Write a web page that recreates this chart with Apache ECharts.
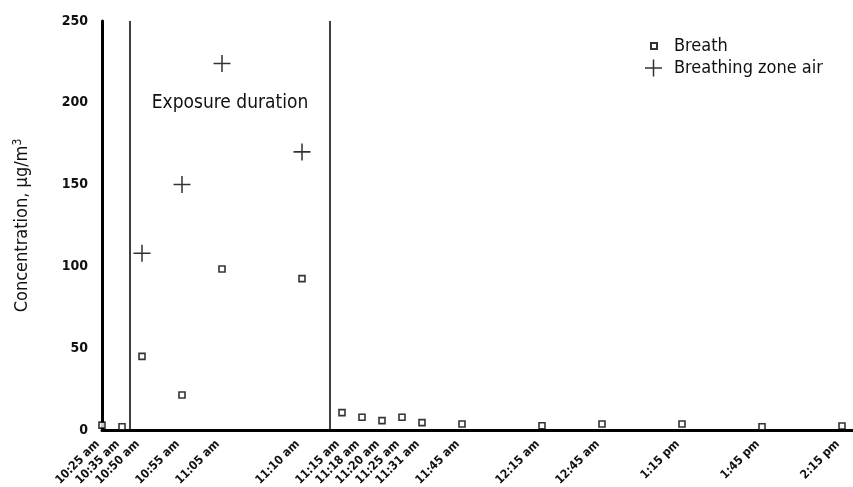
<!DOCTYPE html>
<html>
<head>
<meta charset="utf-8">
<script src="https://cdn.jsdelivr.net/npm/echarts@6/dist/echarts.min.js"></script>
<style>
  html, body { margin: 0; padding: 0; background: #fff; }
  #chart { width: 853px; height: 487px; }
</style>
</head>
<body>
<div id="chart"></div>
<script>
// sampling times and where each one sits along the (non-linear) time axis
var times = ['10:25 am', '10:35 am', '10:50 am', '10:55 am', '11:05 am', '11:10 am', '11:15 am', '11:18 am',
  '11:20 am', '11:25 am', '11:31 am', '11:45 am', '12:15 am', '12:45 am', '1:15 pm', '1:45 pm', '2:15 pm'];
var slots = [0, 1, 2, 4, 6, 10, 12, 13, 14, 15, 16, 18, 22, 25, 29, 33, 37];
// breath concentration, ug/m3
var breath = [3, 2, 45, 21.4, 98.4, 92.5, 10.6, 7.8, 5.7, 7.8, 4.5, 3.7, 2.6, 3.7, 3.7, 2, 2.4];
// breathing zone air, only during exposure
var zoneTimes = ['10:50 am', '10:55 am', '11:05 am', '11:10 am'];
var zoneAir = [108, 150, 224, 170];
// exposure window (axis units)
var exposureStart = 1.4;
var exposureEnd = 11.4;
var yTicks = [0, 50, 100, 150, 200, 250];

var FONT = "'DejaVu Sans Condensed', 'Liberation Sans', sans-serif";
var PLUS = 'path://M0,9.1H20V10.9H0Z M9.1,0H10.9V20H9.1Z';

function slotOf(t) { return slots[times.indexOf(t)]; }

var myChart = echarts.init(document.getElementById('chart'));

var option = {
  animation: false,
  backgroundColor: '#fff',
  textStyle: { fontFamily: FONT },
  grid: { left: 102, right: 0, top: 21, bottom: 57, outerBoundsMode: 'none' },
  legend: [
    {
      data: ['Breath'],
      orient: 'vertical',
      left: 645, top: 32,
      itemWidth: 6, itemHeight: 6,
      textStyle: { fontFamily: FONT, fontSize: 18, color: '#111', padding: [0, 0, 0, 12] }
    },
    {
      data: ['Breathing zone air'],
      orient: 'vertical',
      left: 640, top: 54,
      itemWidth: 17, itemHeight: 17,
      textStyle: { fontFamily: FONT, fontSize: 18, color: '#111', padding: [0, 0, 0, 7] }
    }
  ],
  xAxis: {
    type: 'value',
    min: 0,
    max: 37.55,
    splitLine: { show: false },
    axisTick: { show: false },
    axisLine: { onZero: false, lineStyle: { color: '#000', width: 3 } },
    axisLabel: {
      customValues: slots,
      rotate: 45,
      margin: 8,
      padding: [0, 6, 0, 0],
      fontFamily: FONT,
      fontWeight: 'bold',
      fontSize: 12,
      color: '#111',
      formatter: function (v) {
        var i = slots.indexOf(v);
        return i >= 0 ? times[i] : '';
      }
    }
  },
  yAxis: {
    type: 'value',
    min: 0,
    max: 250,
    interval: 50,
    splitLine: { show: false },
    axisTick: { show: false },
    axisLine: { show: true, lineStyle: { color: '#000', width: 3 } },
    axisLabel: {
      margin: 14,
      fontFamily: FONT,
      fontWeight: 'bold',
      fontSize: 14,
      color: '#111',
      formatter: function (v) { return yTicks.indexOf(v) >= 0 ? String(v) : ''; }
    },
    name: '{a|Concentration, µg/m}{s|3}',
    nameLocation: 'middle',
    nameGap: 70,
    nameTextStyle: {
      rich: {
        a: { fontFamily: FONT, fontSize: 18, color: '#111' },
        s: { fontFamily: FONT, fontSize: 12, color: '#111', verticalAlign: 'top', padding: [0, 0, 8, 0] }
      }
    }
  },
  series: [
    {
      name: 'exposure',
      type: 'scatter',
      data: [],
      silent: true,
      markLine: {
        silent: true,
        symbol: 'none',
        label: { show: false },
        lineStyle: { color: '#000', width: 1.5, type: 'solid' },
        data: [{ xAxis: exposureStart }, { xAxis: exposureEnd }]
      },
      markArea: {
        silent: true,
        itemStyle: { color: 'rgba(0,0,0,0)' },
        label: {
          show: true,
          position: 'insideTop',
          distance: 73,
          fontFamily: FONT,
          fontSize: 19,
          color: '#111'
        },
        data: [[{ name: 'Exposure duration', xAxis: exposureStart }, { xAxis: exposureEnd }]]
      }
    },
    {
      name: 'Breath',
      type: 'scatter',
      symbol: 'rect',
      symbolSize: 6,
      itemStyle: { color: '#fff', borderColor: '#000', borderWidth: 1.6 },
      z: 5,
      data: breath.map(function (v, i) { return [slots[i], v]; })
    },
    {
      name: 'Breathing zone air',
      type: 'scatter',
      symbol: PLUS,
      symbolSize: 17,
      itemStyle: { color: '#000' },
      z: 5,
      data: zoneAir.map(function (v, i) { return [slotOf(zoneTimes[i]), v]; })
    }
  ]
};

myChart.setOption(option);
</script>
</body>
</html>
